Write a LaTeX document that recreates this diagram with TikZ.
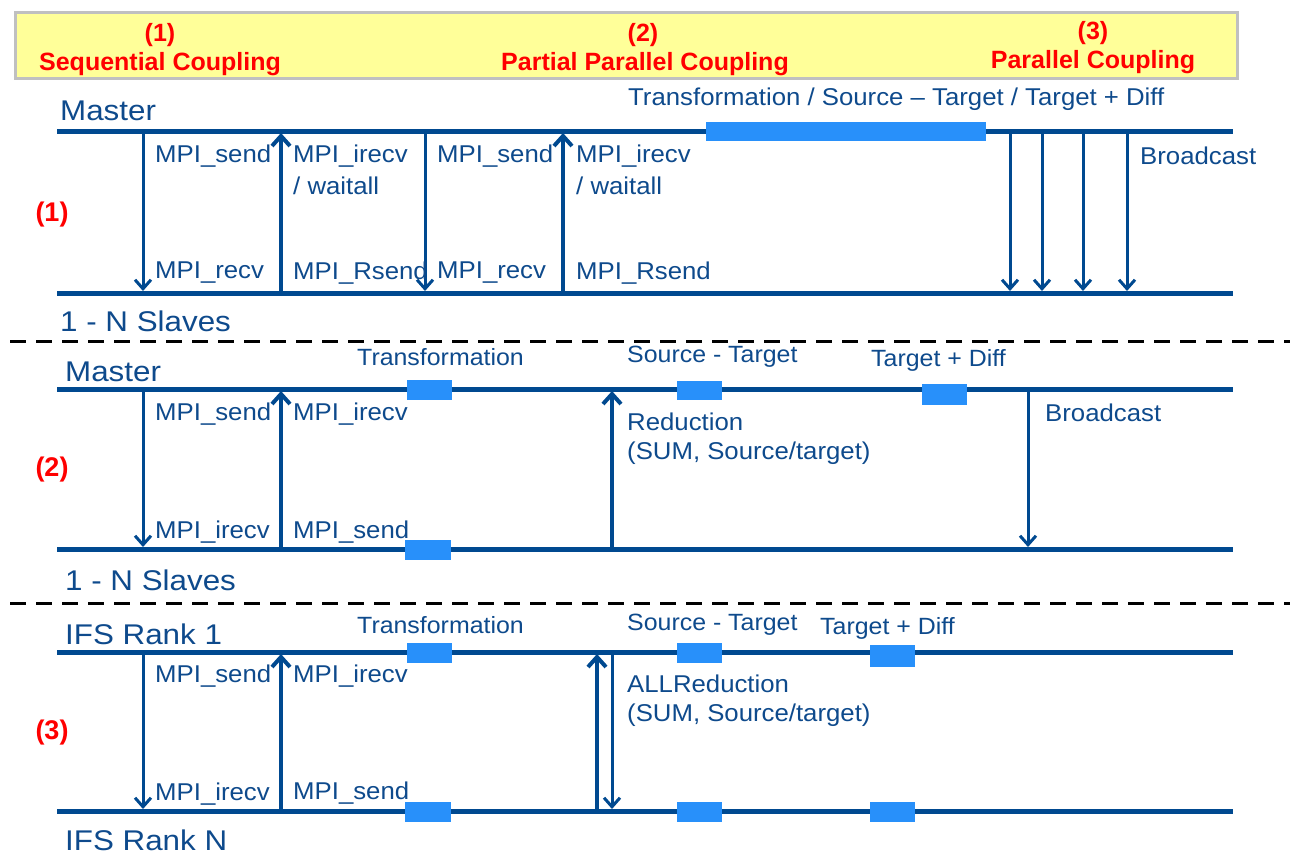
\documentclass[tikz,border=0pt]{standalone}
\usepackage{fontspec}
\setmainfont{Liberation Sans}
\newfontfamily\lblfont{Liberation Sans}[FakeStretch=1.06,Ligatures=TeX]
\newfontfamily\rolefont{Liberation Sans}[FakeStretch=1.1,Ligatures=TeX]
\usetikzlibrary{arrows.meta}
\definecolor{lineblue}{RGB}{0,73,144}
\definecolor{textblue}{RGB}{14,74,140}
\definecolor{boxblue}{RGB}{40,144,250}
\definecolor{bannerfill}{RGB}{255,255,153}
\definecolor{bannerdraw}{RGB}{192,192,192}
\definecolor{redtxt}{RGB}{255,0,0}
\tikzset{
  lane/.style={draw=lineblue,line width=5pt},
  sep/.style={draw=black,line width=3pt,dash pattern=on 16pt off 10pt},
  thinarr/.style={draw=lineblue,line width=3pt,-{Straight Barb[length=9pt,width=16pt,line width=3pt]}},
  thickarr/.style={draw=lineblue,line width=4.5pt,-{Straight Barb[length=10pt,width=18pt,line width=4pt]}},
  lbl/.style={anchor=west,inner sep=0pt,text=textblue,font=\lblfont\fontsize{24.3}{28}\selectfont},
  slbl/.style={anchor=west,inner sep=0pt,text=textblue,font=\lblfont\fontsize{23.5}{28}\selectfont},
  role/.style={anchor=west,inner sep=0pt,text=textblue,font=\rolefont\fontsize{28.5}{32}\selectfont},
  ttl/.style={inner sep=0pt,text=redtxt,font=\fontsize{25}{28}\selectfont\bfseries},
  secnum/.style={inner sep=0pt,text=redtxt,font=\fontsize{27}{30}\selectfont\bfseries},
  work/.style={fill=boxblue,draw=none},
}
\begin{document}
\begin{tikzpicture}[x=1pt,y=-1pt]
\useasboundingbox (0,0) rectangle (1297,854);
% banner
\draw[fill=bannerfill,draw=bannerdraw,line width=3pt] (15,12) rectangle (1237,78);
\node[ttl] (t1a) at (160,35) {(1)};
\node[ttl] (t1b) at (160,64) {Sequential Coupling};
\node[ttl] (t2a) at (643,35) {(2)};
\node[ttl] (t2b) at (645,64) {Partial Parallel Coupling};
\node[ttl] (t3a) at (1093,33) {(3)};
\node[ttl] (t3b) at (1093,62) {Parallel Coupling};

% ===== Section 1 =====
\node[role] (s1m) at (60,111) {Master};
\node[role] (s1s) at (60,321) {1 - N Slaves};
\node[secnum] (s1n) at (52,215) {(1)};
\coordinate (s1tl) at (57,131); \coordinate (s1tr) at (1233,131);
\coordinate (s1bl) at (57,293); \coordinate (s1br) at (1233,293);
\draw[lane] (s1tl) -- (s1tr);
\draw[lane] (s1bl) -- (s1br);
\draw[work] (706,122) rectangle (986,141);
\foreach \x/\n in {143/a,425/c,1010/e,1042/f,1083/g,1127/h}{
  \coordinate (s1t\n) at (\x,133); \coordinate (s1b\n) at (\x,291);
  \draw[thinarr] (s1t\n) -- (s1b\n);
}
\foreach \x/\n in {281/b,563/d}{
  \coordinate (s1t\n) at (\x,133); \coordinate (s1b\n) at (\x,291);
  \draw[thickarr] (s1b\n) -- (s1t\n);
}
\node[lbl] (l1) at (155,156) {MPI\_send};
\node[lbl] (l2) at (293,156) {MPI\_irecv};
\node[lbl] (l3) at (293,186) {/ waitall};
\node[lbl] (l4) at (155,273) {MPI\_recv};
\node[lbl] (l5) at (293,273) {MPI\_Rsend};
\node[lbl] (l6) at (437,156) {MPI\_send};
\node[lbl] (l7) at (576,156) {MPI\_irecv};
\node[lbl] (l8) at (576,186) {/ waitall};
\node[lbl] (l9) at (437,273) {MPI\_recv};
\node[lbl] (l10) at (576,273) {MPI\_Rsend};
\node[lbl] (l11) at (628,99) {Transformation / Source – Target / Target + Diff};
\node[lbl] (l12) at (1140,156) {Broadcast};

\draw[sep] (10,341) -- (1290,341);

% ===== Section 2 =====
\node[role] (s2m) at (65,372) {Master};
\node[role] (s2s) at (65,580) {1 - N Slaves};
\node[secnum] (s2n) at (52,470) {(2)};
\coordinate (s2tl) at (57,389); \coordinate (s2tr) at (1233,389);
\coordinate (s2bl) at (57,549); \coordinate (s2br) at (1233,549);
\draw[lane] (s2tl) -- (s2tr);
\draw[lane] (s2bl) -- (s2br);
\draw[work] (407,380) rectangle (452,400);
\draw[work] (405,540) rectangle (451,560);
\draw[work] (677,381) rectangle (722,400);
\draw[work] (922,384) rectangle (967,405);
\foreach \x/\n in {143/a,1028/d}{
  \coordinate (s2t\n) at (\x,391); \coordinate (s2b\n) at (\x,547);
  \draw[thinarr] (s2t\n) -- (s2b\n);
}
\foreach \x/\n in {281/b,612/c}{
  \coordinate (s2t\n) at (\x,391); \coordinate (s2b\n) at (\x,547);
  \draw[thickarr] (s2b\n) -- (s2t\n);
}
\node[lbl] (m1) at (155,414) {MPI\_send};
\node[lbl] (m2) at (293,414) {MPI\_irecv};
\node[lbl] (m3) at (155,532) {MPI\_irecv};
\node[lbl] (m4) at (293,532) {MPI\_send};
\node[slbl] (m5) at (357,357) {Transformation};
\node[slbl] (m6) at (627,357) {Source - Target};
\node[slbl] (m7) at (871,360) {Target + Diff};
\node[lbl] (m8) at (627,422) {Reduction};
\node[lbl] (m9) at (627,453) {(SUM, Source/target)};
\node[lbl] (m10) at (1045,413) {Broadcast};

\draw[sep] (10,603) -- (1290,603);

% ===== Section 3 =====
\node[role] (s3m) at (65,634) {IFS Rank 1};
\node[role] (s3s) at (65,840) {IFS Rank N};
\node[secnum] (s3n) at (52,733) {(3)};
\coordinate (s3tl) at (57,652); \coordinate (s3tr) at (1233,652);
\coordinate (s3bl) at (57,811); \coordinate (s3br) at (1233,811);
\draw[lane] (s3tl) -- (s3tr);
\draw[lane] (s3bl) -- (s3br);
\draw[work] (407,643) rectangle (452,663);
\draw[work] (405,802) rectangle (451,822);
\draw[work] (677,643) rectangle (722,663);
\draw[work] (677,802) rectangle (722,822);
\draw[work] (870,645) rectangle (915,667);
\draw[work] (870,802) rectangle (915,822);
\foreach \x/\n in {143/a,612/d}{
  \coordinate (s3t\n) at (\x,654); \coordinate (s3b\n) at (\x,809);
  \draw[thinarr] (s3t\n) -- (s3b\n);
}
\foreach \x/\n in {281/b,597/c}{
  \coordinate (s3t\n) at (\x,654); \coordinate (s3b\n) at (\x,809);
  \draw[thickarr] (s3b\n) -- (s3t\n);
}
\node[lbl] (n1) at (155,676) {MPI\_send};
\node[lbl] (n2) at (293,676) {MPI\_irecv};
\node[lbl] (n3) at (155,794) {MPI\_irecv};
\node[lbl] (n4) at (293,793) {MPI\_send};
\node[slbl] (n5) at (357,625) {Transformation};
\node[slbl] (n6) at (627,625) {Source - Target};
\node[slbl] (n7) at (820,628) {Target + Diff};
\node[lbl] (n8) at (627,684) {ALLReduction};
\node[lbl] (n9) at (627,715) {(SUM, Source/target)};
\end{tikzpicture}
\end{document}
